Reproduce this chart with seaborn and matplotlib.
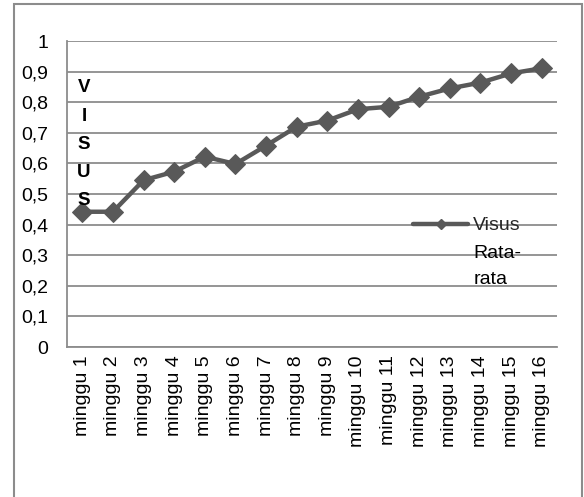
import matplotlib
matplotlib.use("Agg")
import matplotlib.pyplot as plt
from matplotlib.patches import Rectangle
from matplotlib.lines import Line2D
import numpy as np
import pandas as pd
import seaborn as sns

weeks = [f"minggu {i}" for i in range(1, 17)]
visus = [0.442, 0.442, 0.545, 0.573, 0.622, 0.598, 0.658, 0.72,
         0.74, 0.777, 0.785, 0.818, 0.845, 0.864, 0.894, 0.911]
y_ticks = [0, 0.1, 0.2, 0.3, 0.4, 0.5, 0.6, 0.7, 0.8, 0.9, 1]
y_labels = ["0", "0,1", "0,2", "0,3", "0,4", "0,5", "0,6", "0,7", "0,8", "0,9", "1"]
series_lines = ["Visus", "Rata-", "rata"]

sns.set_theme(style="white")
plt.rcParams["font.family"] = ["Liberation Sans", "DejaVu Sans"]

FS = 14
line_col = "#595959"
grid_col = "#8c8c8c"

df = pd.DataFrame({"minggu": weeks, "visus": visus})

fig = plt.figure(figsize=(5.84, 4.97), dpi=100)
fig.patch.set_facecolor("white")
# outer chart frame
fig.patches.append(Rectangle((14 / 584, -0.02), (582 - 14) / 584, 1 - 4 / 497 + 0.02,
                             transform=fig.transFigure, fill=False,
                             edgecolor="#8c8c8c", linewidth=1.5, zorder=0))

ax = fig.add_axes([67 / 584, 1 - 347 / 497, (557 - 67) / 584, (347 - 41) / 497])
sns.lineplot(data=df, x="minggu", y="visus", ax=ax, color=line_col,
             linewidth=3.2, marker="D", markersize=10.5, markeredgecolor=line_col,
             markerfacecolor=line_col, sort=False, zorder=3)

ax.set_xlim(-0.5, len(weeks) - 0.5)
ax.set_ylim(0, 1)
ax.set_yticks(y_ticks)
ax.set_yticklabels(y_labels, fontsize=FS, color="black")
ax.set_xticks(range(len(weeks)))
ax.set_xticklabels(weeks, rotation=90, fontsize=FS, color="black")
ax.set_xticks(np.arange(-0.5, len(weeks), 1), minor=True)
ax.tick_params(axis="x", which="major", length=0, pad=6)
ax.tick_params(axis="x", which="minor", length=3.6, width=1.3, color=grid_col, direction="out")
ax.tick_params(axis="y", which="major", length=4.3, width=1.3, color=grid_col, direction="out", pad=9)
ax.set_xlabel("")
ax.set_ylabel("")

ax.yaxis.grid(True, color=grid_col, linewidth=1.3)
ax.set_axisbelow(True)
for side in ["top", "right"]:
    ax.spines[side].set_visible(False)
for side in ["left", "bottom"]:
    ax.spines[side].set_color(grid_col)
    ax.spines[side].set_linewidth(1.3)

# stacked vertical axis title
for i, ch in enumerate("VISUS"):
    fig.text(84 / 584, 1 - (88 + i * 28.2) / 497, ch, ha="center", va="center",
             fontsize=FS - 0.5, fontweight="bold", color="black")

# legend entry, with the series name wrapped over three lines
handle = Line2D([], [], color=line_col, linewidth=3.2, marker="D", markersize=5,
                markerfacecolor=line_col, markeredgecolor=line_col)
leg = ax.legend([handle], [series_lines[0]], loc="center left",
                bbox_to_anchor=((413 - 67) / 490, (347 - 225.5) / 306),
                frameon=False, fontsize=FS, handlelength=2.85, handletextpad=0.25,
                borderaxespad=0, borderpad=0)
for k, word in enumerate(series_lines[1:], start=1):
    ax.text((473.5 - 67) / 490, (347 - (232.5 + 25.5 * k)) / 306, word,
            transform=ax.transAxes, ha="left", va="baseline", fontsize=FS, color="black")

fig.savefig("out.png", dpi=100, facecolor="white")
